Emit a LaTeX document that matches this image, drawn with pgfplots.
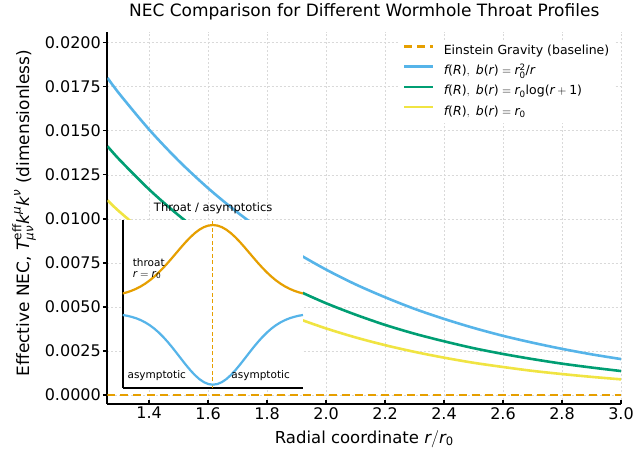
\documentclass[border=0pt]{standalone}
\usepackage{fontspec}
\setmainfont{DejaVu Sans}
\usepackage{amsmath}
\usepackage{pgfplots}
\pgfplotsset{compat=1.18}
\definecolor{cOrange}{HTML}{E69F00}
\definecolor{cBlue}{HTML}{56B4E9}
\definecolor{cGreen}{HTML}{009E73}
\definecolor{cYellow}{HTML}{F0E442}
\newcommand{\mi}[1]{\text{\itshape #1}}
\begin{document}
\begin{tikzpicture}
\path[use as bounding box] (-107.5pt,-44pt) rectangle (536.5pt,404pt);
\begin{axis}[
  at={(0pt,0pt)}, anchor=south west,
  scale only axis, width=513.5pt, height=372.3pt,
  xmin=1.259, xmax=3.0, ymin=-0.00051, ymax=0.02062,
  axis lines=left, axis line style={-, line width=2pt, black},
  xtick={1.4,1.6,1.8,2.0,2.2,2.4,2.6,2.8,3.0},
  ytick={0,0.0025,0.005,0.0075,0.01,0.0125,0.015,0.0175,0.02},
  scaled x ticks=false, scaled y ticks=false,
  xticklabel={\pgfmathprintnumber[fixed, fixed zerofill, precision=1, assume math mode=true]{\tick}},
  yticklabel={\pgfmathprintnumber[fixed, fixed zerofill, precision=4, assume math mode=true]{\tick}},
  x tick label style={inner sep=0pt, yshift=-3pt},
  y tick label style={inner sep=0pt, xshift=-6.5pt},
  tick label style={font=\fontsize{16}{19}\selectfont},
  tick align=inside, major tick length=4.5pt,
  tick style={line width=1.4pt, black},
  y tick style={xshift=-4.5pt},
  grid=major,
  major grid style={dash pattern=on 2pt off 2pt, gray!30, line width=0.5pt},
  title={NEC Comparison for Different Wormhole Throat Profiles},
  title style={at={(axis description cs:0.5,1.0381)}, anchor=center, font=\fontsize{17}{20}\selectfont},
  xlabel={Radial coordinate $\mi{r}/\mi{r}_{\text{0}}$},
  xlabel style={at={(axis description cs:0.5,-0.0935)}, anchor=center, font=\fontsize{16.5}{19}\selectfont},
  ylabel={Effective NEC, $\mi{T}^{\text{eff}}_{\mi{μν}}\mi{k}^{\mi{μ}}\mi{k}^{\mi{ν}}$ (dimensionless)},
  ylabel style={at={(axis description cs:-0.1626,0.513)}, anchor=center, font=\fontsize{17}{20}\selectfont},
  legend style={at={(axis description cs:0.5657,0.9793)}, anchor=north west, draw=none, fill=white, inner sep=5pt,
    font=\fontsize{12.5}{15}\selectfont, row sep=7.8pt,
    nodes={inner sep=0pt, text height=9.5pt, text depth=3pt},
    /tikz/every odd column/.append style={column sep=9pt}},
  legend cell align=left,
  legend image code/.code={\draw[#1] (0pt,4.6pt) -- (29pt,4.6pt);},
]
\addplot[cOrange, line width=2.6pt, dash pattern=on 8pt off 5pt] coordinates {(1.259,0) (3.0,0)};
\addlegendentry{Einstein Gravity (baseline)}
\addplot[cBlue, line width=2.6pt, smooth] coordinates {
(1.259,0.01800) (1.3,0.01708) (1.4,0.01507) (1.5,0.01330) (1.6,0.01174) (1.7,0.01036)
(1.8,0.00914) (1.9,0.00807) (2.0,0.00712) (2.1,0.00628) (2.2,0.00555) (2.3,0.00489)
(2.4,0.00432) (2.5,0.00381) (2.6,0.00336) (2.7,0.00297) (2.8,0.00262) (2.9,0.00231) (3.0,0.00204)};
\addlegendentry{$\mi{f}\text{(}\mi{R}\text{)},\ \mi{b}\text{(}\mi{r}\text{)} = \mi{r}^{\text{2}}_{\text{0}}\text{/}\mi{r}$}
\addplot[cGreen, line width=2.6pt, smooth] coordinates {
(1.259,0.01412) (1.3,0.01335) (1.4,0.01167) (1.5,0.01020) (1.6,0.00892) (1.7,0.00780)
(1.8,0.00682) (1.9,0.00596) (2.0,0.00521) (2.1,0.00456) (2.2,0.00398) (2.3,0.00348)
(2.4,0.00305) (2.5,0.00266) (2.6,0.00233) (2.7,0.00204) (2.8,0.00178) (2.9,0.00156) (3.0,0.00136)};
\addlegendentry{$\mi{f}\text{(}\mi{R}\text{)},\ \mi{b}\text{(}\mi{r}\text{)} = \mi{r}_{\text{0}}\text{log(}\mi{r} + \text{1)}$}
\addplot[cYellow, line width=2.6pt, smooth] coordinates {
(1.259,0.01105) (1.3,0.01040) (1.4,0.00900) (1.5,0.00779) (1.6,0.00674) (1.7,0.00583)
(1.8,0.00505) (1.9,0.00437) (2.0,0.00378) (2.1,0.00327) (2.2,0.00283) (2.3,0.00245)
(2.4,0.00212) (2.5,0.00183) (2.6,0.00159) (2.7,0.00137) (2.8,0.00119) (2.9,0.00103) (3.0,0.00089)};
\addlegendentry{$\mi{f}\text{(}\mi{R}\text{)},\ \mi{b}\text{(}\mi{r}\text{)} = \mi{r}_{\text{0}}$}
\end{axis}
\begin{axis}[
  at={(15.2pt,16.3pt)}, anchor=south west,
  scale only axis, width=180.3pt, height=167.7pt,
  xmin=0, xmax=1, ymin=0, ymax=1,
  axis lines=left, axis line style={-, line width=2pt, black},
  xtick=\empty, ytick=\empty,
  axis background/.style={fill=white},
  title={Throat / asymptotics},
  title style={at={(axis description cs:0.502,1.034)}, anchor=center, font=\fontsize{11.5}{14}\selectfont},
]
\addplot[cOrange, line width=1.2pt, dash pattern=on 4pt off 2.5pt] coordinates {(0.5,0) (0.5,1)};
\addplot[cOrange, line width=2.2pt] coordinates {
(0,0.5619) (0.025,0.5693) (0.05,0.5786) (0.075,0.5901) (0.1,0.6040) (0.125,0.6206) (0.15,0.6400)
(0.175,0.6623) (0.2,0.6873) (0.225,0.7148) (0.25,0.7443) (0.275,0.7754) (0.3,0.8071) (0.325,0.8386)
(0.35,0.8690) (0.375,0.8970) (0.4,0.9217) (0.425,0.9421) (0.45,0.9574) (0.475,0.9668) (0.5,0.9700)
(0.525,0.9668) (0.55,0.9574) (0.575,0.9421) (0.6,0.9217) (0.625,0.8970) (0.65,0.8690) (0.675,0.8386)
(0.7,0.8071) (0.725,0.7754) (0.75,0.7443) (0.775,0.7148) (0.8,0.6873) (0.825,0.6623) (0.85,0.6400)
(0.875,0.6206) (0.9,0.6040) (0.925,0.5901) (0.95,0.5786) (0.975,0.5693) (1,0.5619)};
\addplot[cBlue, line width=2.2pt] coordinates {
(0,0.4336) (0.025,0.4288) (0.05,0.4223) (0.075,0.4139) (0.1,0.4030) (0.125,0.3894) (0.15,0.3727)
(0.175,0.3526) (0.2,0.3291) (0.225,0.3023) (0.25,0.2724) (0.275,0.2400) (0.3,0.2059) (0.325,0.1710)
(0.35,0.1368) (0.375,0.1045) (0.4,0.0756) (0.425,0.0514) (0.45,0.0332) (0.475,0.0218) (0.5,0.0180)
(0.525,0.0218) (0.55,0.0332) (0.575,0.0514) (0.6,0.0756) (0.625,0.1045) (0.65,0.1368) (0.675,0.1710)
(0.7,0.2059) (0.725,0.2400) (0.75,0.2724) (0.775,0.3023) (0.8,0.3291) (0.825,0.3526) (0.85,0.3727)
(0.875,0.3894) (0.9,0.4030) (0.925,0.4139) (0.95,0.4223) (0.975,0.4288) (1,0.4336)};
\node[anchor=west, inner sep=0pt, font=\fontsize{10.5}{12}\selectfont] at (axis cs:0.055,0.745) {throat};
\node[anchor=west, inner sep=0pt, font=\fontsize{10.5}{12}\selectfont] at (axis cs:0.055,0.672) {$\mi{r} = \mi{r}_{\text{0}}$};
\node[anchor=west, inner sep=0pt, font=\fontsize{10.5}{12}\selectfont] at (axis cs:0.026,0.07) {asymptotic};
\node[anchor=east, inner sep=0pt, font=\fontsize{10.5}{12}\selectfont] at (axis cs:0.928,0.07) {asymptotic};
\end{axis}
\end{tikzpicture}
\end{document}
